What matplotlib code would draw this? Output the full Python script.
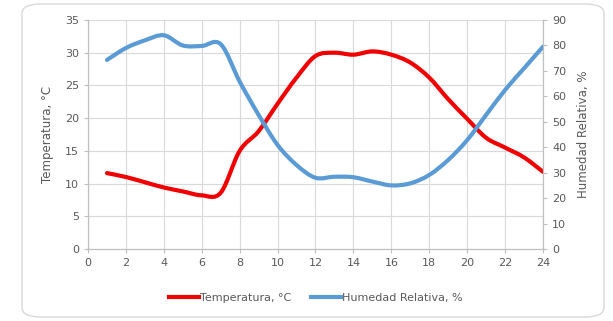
import numpy as np
import matplotlib.pyplot as plt
from matplotlib.path import Path
from matplotlib.patches import PathPatch, FancyBboxPatch
from matplotlib.lines import Line2D

hours = [1, 2, 3, 4, 5, 6, 7, 8, 9, 10, 11, 12,
         13, 14, 15, 16, 17, 18, 19, 20, 21, 22, 23, 24]
temperatura = [11.6, 11.0, 10.2, 9.4, 8.8, 8.2, 8.6, 15.0, 18.0, 22.2, 26.2, 29.5,
               30.0, 29.7, 30.2, 29.7, 28.5, 26.2, 22.9, 19.9, 17.0, 15.5, 14.0, 11.8]
humedad = [74.3, 79.0, 82.0, 84.0, 80.0, 79.8, 80.5, 65.8, 52.7, 40.9, 33.0, 28.0,
           28.4, 28.2, 26.5, 25.0, 25.8, 29.1, 35.0, 42.8, 52.7, 62.5, 71.0, 79.5]

temp_color = '#F00000'
hum_color = '#5B9BD5'
grey = '#595959'


def smooth_path(x, y):
    # Excel-like smoothed line: cubic bezier with catmull-rom tangents
    x = np.asarray(x, float)
    y = np.asarray(y, float)
    verts = [(x[0], y[0])]
    codes = [Path.MOVETO]
    n = len(x)
    for i in range(n - 1):
        x0, y0 = (x[i - 1], y[i - 1]) if i > 0 else (x[i], y[i])
        x3, y3 = (x[i + 2], y[i + 2]) if i + 2 < n else (x[i + 1], y[i + 1])
        c1 = (x[i] + (x[i + 1] - x0) / 6, y[i] + (y[i + 1] - y0) / 6)
        c2 = (x[i + 1] - (x3 - x[i]) / 6, y[i + 1] - (y3 - y[i]) / 6)
        verts += [c1, c2, (x[i + 1], y[i + 1])]
        codes += [Path.CURVE4] * 3
    return Path(verts, codes)


fig = plt.figure(figsize=(6.13, 3.21), dpi=100)
fig.patches.append(FancyBboxPatch((22 / 613, 4 / 321), 582 / 613, 313 / 321,
                                  boxstyle='round,pad=0,rounding_size=0.03',
                                  transform=fig.transFigure, fc='none',
                                  ec='#D9D9D9', lw=1, zorder=-1))

ax = fig.add_axes([88 / 613, 1 - 249 / 321, (543 - 88) / 613, (249 - 20) / 321])
ax2 = ax.twinx()

ax.set_xlim(0, 24)
ax.set_ylim(0, 35)
ax2.set_ylim(0, 90)
ax.set_xticks(range(0, 25, 2))
ax.set_yticks(range(0, 36, 5))
ax2.set_yticks(range(0, 91, 10))

ax.grid(True, color='#D9D9D9', lw=0.8)
ax.set_axisbelow(True)

ax.add_patch(PathPatch(smooth_path(hours, temperatura), fc='none',
                       ec=temp_color, lw=3, capstyle='round', zorder=3))
ax2.add_patch(PathPatch(smooth_path(hours, humedad), fc='none',
                        ec=hum_color, lw=3, capstyle='round', zorder=3))

for a in (ax, ax2):
    for s in a.spines.values():
        s.set_color('#BFBFBF')
        s.set_linewidth(0.8)
    a.spines['top'].set_visible(False)
    a.tick_params(colors='#BFBFBF', labelcolor=grey, labelsize=8, length=3)

ax.set_ylabel('Temperatura, °C', color=grey, fontsize=8.5, labelpad=8)
ax2.set_ylabel('Humedad Relativa, %', color=grey, fontsize=8.5, rotation=90, labelpad=8)

handles = [Line2D([], [], color=temp_color, lw=3),
           Line2D([], [], color=hum_color, lw=3)]
fig.legend(handles, ['Temperatura, °C', 'Humedad Relativa, %'],
           loc='center', bbox_to_anchor=(0.515, 1 - 298 / 321), ncol=2,
           frameon=False, fontsize=8, labelcolor=grey,
           handlelength=2.7, handletextpad=0.1, columnspacing=1.8)

fig.savefig('out.png', dpi=100)
